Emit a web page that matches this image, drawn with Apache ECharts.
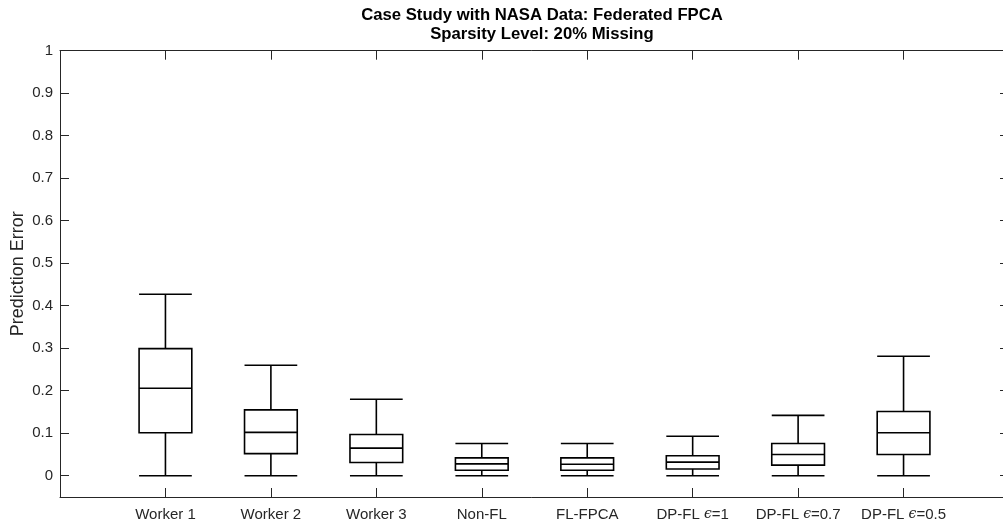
<!DOCTYPE html>
<html><head><meta charset="utf-8">
<script src="https://cdn.jsdelivr.net/npm/echarts@6/dist/echarts.min.js"></script>
<style>html,body{margin:0;padding:0;background:#fff}#c{width:1003px;height:525px}</style>
</head><body><div id="c"></div>
<script>
const categories = ['Worker 1','Worker 2','Worker 3','Non-FL','FL-FPCA','DP-FL ϵ=1','DP-FL ϵ=0.7','DP-FL ϵ=0.5'];
// [min, Q1, median, Q3, max]
const workers1 = [0, 0.101, 0.206, 0.299, 0.427];
const workers2 = [0, 0.052, 0.102, 0.155, 0.260];
const workers3 = [0, 0.031, 0.065, 0.097, 0.180];
const nonFL    = [0, 0.013, 0.028, 0.042, 0.076];
const flFPCA   = [0, 0.013, 0.027, 0.042, 0.076];
const dpEps1   = [0, 0.016, 0.032, 0.047, 0.093];
const dpEps07  = [0, 0.025, 0.050, 0.076, 0.142];
const dpEps05  = [0, 0.050, 0.101, 0.151, 0.281];
const yTicks = [0, 0.1, 0.2, 0.3, 0.4, 0.5, 0.6, 0.7, 0.8, 0.9, 1];

const stats = [workers1, workers2, workers3, nonFL, flFPCA, dpEps1, dpEps07, dpEps05];
const axisCats = [''].concat(categories, ['']);
const boxData = categories.map((c, i) => [c].concat(stats[i]));

const FONT = 'Liberation Sans, Arial, Helvetica, sans-serif';
const AX = '#262626';
const chart = echarts.init(document.getElementById('c'), null, {renderer: 'canvas'});
const tickShow = (idx) => idx > 0 && idx < axisCats.length - 1;
chart.setOption({
  animation: false,
  backgroundColor: '#fff',
  title: {
    text: 'Case Study with NASA Data: Federated FPCA\nSparsity Level: 20% Missing',
    left: 537, top: 1, textAlign: 'center',
    textStyle: {fontFamily: FONT, fontSize: 16.7, fontWeight: 'bold', color: '#000', lineHeight: 19}
  },
  grid: {left: 60, top: 50.7, width: 949, height: 446.3, outerBoundsMode: 'none', containLabel: false},
  xAxis: [{
    type: 'category', data: axisCats, boundaryGap: false, position: 'bottom',
    axisLine: {show: true, onZero: false, lineStyle: {color: AX, width: 1}},
    axisTick: {show: true, inside: true, length: 9, interval: tickShow, lineStyle: {color: AX}},
    axisLabel: {
      show: true, interval: 0, margin: 10, color: AX, fontFamily: FONT, fontSize: 15,
      formatter: v => v.replace('ϵ', '{e|ϵ}'),
      rich: {e: {fontStyle: 'italic', fontFamily: 'DejaVu Serif, serif', fontSize: 14, color: AX}}
    },
    splitLine: {show: false}
  }, {
    type: 'category', data: axisCats, boundaryGap: false, position: 'top',
    axisLine: {show: true, onZero: false, lineStyle: {color: AX, width: 1}},
    axisTick: {show: true, inside: true, length: 9, interval: tickShow, lineStyle: {color: AX}},
    axisLabel: {show: false}, splitLine: {show: false}
  }],
  yAxis: [{
    type: 'value', min: -0.05, max: 1, position: 'left',
    name: 'Prediction Error', nameLocation: 'middle', nameGap: 33, nameMoveOverlap: false,
    nameTextStyle: {fontFamily: FONT, fontSize: 18, color: AX},
    axisLine: {show: true, onZero: false, lineStyle: {color: AX, width: 1}},
    axisTick: {show: true, inside: true, length: 9, customValues: yTicks, lineStyle: {color: AX}},
    axisLabel: {show: true, customValues: yTicks, margin: 7, color: AX, fontFamily: FONT, fontSize: 15,
      formatter: v => String(Math.round(v * 10) / 10)},
    splitLine: {show: false}
  }, {
    type: 'value', min: -0.05, max: 1, position: 'right',
    axisLine: {show: true, onZero: false, lineStyle: {color: AX, width: 1}},
    axisTick: {show: true, inside: true, length: 9, customValues: yTicks, lineStyle: {color: AX}},
    axisLabel: {show: false}, splitLine: {show: false}
  }],
  series: [{
    type: 'boxplot',
    xAxisIndex: 0, yAxisIndex: 0,
    data: boxData,
    encode: {x: 0, y: [1, 2, 3, 4, 5]},
    boxWidth: ['50%', '50%'],
    itemStyle: {color: 'rgba(255,255,255,0)', borderColor: '#000', borderWidth: 1.6},
    emphasis: {disabled: true}
  }]
});
</script></body></html>
